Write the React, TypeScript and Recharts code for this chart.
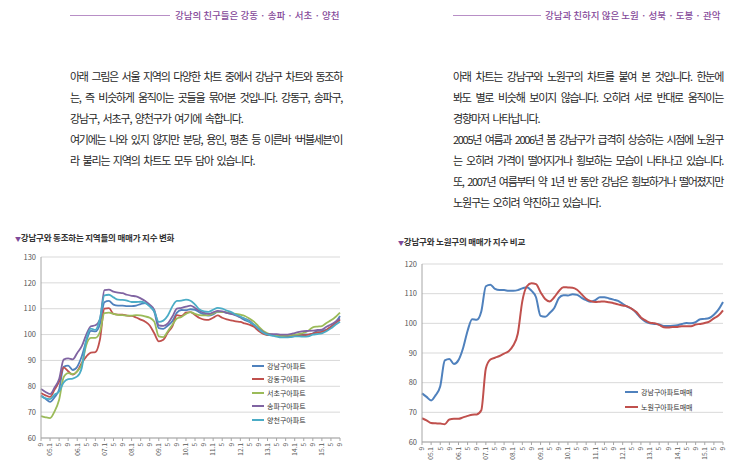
import React from 'react';
import { LineChart, Line, XAxis, YAxis, CartesianGrid } from 'recharts';

// 2개월 간격 (04.9 ~ 15.9)
const months = [
  '04.9', '04.11',
  '05.1', '05.3', '05.5', '05.7', '05.9', '05.11',
  '06.1', '06.3', '06.5', '06.7', '06.9', '06.11',
  '07.1', '07.3', '07.5', '07.7', '07.9', '07.11',
  '08.1', '08.3', '08.5', '08.7', '08.9', '08.11',
  '09.1', '09.3', '09.5', '09.7', '09.9', '09.11',
  '10.1', '10.3', '10.5', '10.7', '10.9', '10.11',
  '11.1', '11.3', '11.5', '11.7', '11.9', '11.11',
  '12.1', '12.3', '12.5', '12.7', '12.9', '12.11',
  '13.1', '13.3', '13.5', '13.7', '13.9', '13.11',
  '14.1', '14.3', '14.5', '14.7', '14.9', '14.11',
  '15.1', '15.3', '15.5', '15.7', '15.9',
];

const gangnam = [
  76.4, 75.2, 74.0, 75.8, 78.8, 87.5, 88.0, 86.3, 87.6, 91.6,
  97.5, 101.4, 101.2, 104.0, 112.5, 113.0, 111.6, 111.2, 111.2, 111.0,
  111.0, 111.2, 111.8, 112.2, 111.0, 108.8, 102.5, 102.2, 103.5, 105.2,
  108.5, 109.5, 109.4, 109.8, 109.6, 108.6, 107.8, 107.3, 107.8, 108.8,
  108.8, 108.4, 108.0, 107.6, 106.6, 105.6, 104.9, 103.5, 101.8, 100.6,
  100.0, 99.8, 99.6, 99.1, 99.1, 99.2, 99.4, 99.8, 100.1, 100.0,
  100.4, 101.4, 101.5, 101.8, 102.9, 104.6, 107.2,
];

const gangdong = [
  77.4, 76.5, 75.9, 78.7, 81.9, 87.3, 85.8, 84.5, 85.8, 89.0,
  91.5, 93.0, 93.2, 98.0, 110.0, 110.2, 108.0, 107.7, 107.7, 107.3,
  107.2, 106.6, 105.8, 105.0, 103.5, 100.5, 97.4, 98.0, 100.8, 103.2,
  107.5, 107.2, 108.5, 108.7, 107.6, 106.4, 105.8, 105.7, 106.5, 107.4,
  106.5, 105.9, 105.5, 105.1, 104.9, 104.3, 103.8, 103.0, 101.5, 100.3,
  99.8, 100.0, 99.6, 99.4, 99.5, 99.6, 99.6, 99.8, 99.8, 100.0,
  100.4, 100.8, 101.0, 101.8, 103.0, 104.4, 105.7,
];

const seocho = [
  68.5, 68.0, 67.7, 70.3, 74.8, 83.5, 85.1, 84.7, 85.8, 88.4,
  96.0, 98.7, 98.7, 101.0, 108.3, 108.5, 108.0, 107.6, 107.5, 107.3,
  107.3, 107.5, 107.4, 107.0, 106.5, 105.0, 99.3, 99.0, 101.3, 103.8,
  106.2, 106.8, 108.0, 108.7, 108.0, 107.5, 107.4, 107.5, 108.2, 108.9,
  108.7, 108.6, 108.3, 108.0, 107.7, 107.2, 106.2, 105.0, 103.2, 101.5,
  100.5, 100.0, 99.6, 99.4, 99.6, 99.8, 100.0, 100.3, 100.7, 101.5,
  102.8, 103.1, 103.3, 104.5, 105.5, 106.8, 108.5,
];

const songpa = [
  79.0, 77.8, 77.0, 79.5, 82.8, 90.3, 90.8, 90.4, 92.9, 95.5,
  100.0, 103.2, 103.6, 105.8, 117.2, 117.4, 116.6, 116.2, 116.0, 115.4,
  115.0, 114.8, 114.0, 113.0, 111.6, 109.6, 103.6, 103.4, 104.3, 107.0,
  110.0, 110.3, 110.8, 111.2, 110.3, 109.2, 108.4, 108.0, 108.6, 109.2,
  109.0, 108.4, 108.0, 107.4, 106.7, 106.1, 105.3, 103.8, 102.3, 101.0,
  100.2, 100.2, 100.2, 100.0, 100.0, 100.2, 100.6, 101.0, 101.3, 101.4,
  101.5, 101.8, 101.9, 103.0, 103.9, 105.0, 106.2,
];

const yangcheon = [
  76.2, 75.3, 75.0, 76.8, 78.0, 81.5, 82.8, 83.0, 83.8, 87.1,
  98.0, 102.3, 101.8, 106.0, 115.2, 115.4, 114.4, 113.5, 113.4, 113.1,
  112.6, 112.6, 112.7, 112.2, 110.9, 109.0, 104.9, 105.4, 107.4, 110.9,
  113.0, 113.1, 113.5, 113.1, 111.6, 109.7, 109.0, 108.8, 109.6, 110.3,
  110.0, 109.3, 108.7, 107.7, 107.0, 106.1, 105.1, 103.8, 102.2, 100.8,
  100.0, 99.6, 99.2, 98.9, 98.9, 99.0, 99.3, 99.3, 99.2, 99.3,
  100.0, 100.2, 100.5, 101.3, 102.4, 103.8, 105.0,
];

const nowon = [
  68.0, 67.3, 66.4, 66.3, 66.2, 66.0, 67.6, 67.8, 67.8, 68.3,
  68.8, 69.2, 69.3, 70.7, 84.8, 87.8, 88.4, 89.0, 89.8, 90.6,
  92.5, 96.5, 107.5, 112.5, 113.5, 113.2, 110.5, 108.2, 107.4, 108.8,
  110.8, 112.2, 112.1, 112.0, 111.3, 109.8, 108.3, 107.5, 107.2, 107.3,
  107.4, 107.1, 106.8, 106.4, 106.0, 105.7, 104.9, 103.8, 102.0, 101.0,
  100.2, 100.0, 99.5, 98.7, 98.6, 98.8, 98.8, 99.0, 99.0, 99.0,
  99.6, 99.8, 100.1, 100.6, 101.7, 102.6, 104.4,
];

const leftTicks = [60, 70, 80, 90, 100, 110, 120, 130];
const rightTicks = [60, 70, 80, 90, 100, 110, 120];

const leftNames = ['강남구아파트', '강동구아파트', '서초구아파트', '송파구아파트', '양천구아파트'];
const rightNames = ['강남구아파트매매', '노원구아파트매매'];

const leftData = months.map((m, i) => ({
  month: m,
  gangnam: gangnam[i],
  gangdong: gangdong[i],
  seocho: seocho[i],
  songpa: songpa[i],
  yangcheon: yangcheon[i],
}));

const rightData = months.map((m, i) => ({
  month: m,
  gangnam: gangnam[i],
  nowon: nowon[i],
}));

const FONT = '"Noto Sans CJK KR", "Noto Sans", sans-serif';
const BLUE = '#4f81bd';
const RED = '#c0504d';
const GREEN = '#9bbb59';
const PURPLE = '#8064a2';
const CYAN = '#4bacc6';
const leftColors = [BLUE, RED, GREEN, PURPLE, CYAN];
const leftKeys = ['gangnam', 'gangdong', 'seocho', 'songpa', 'yangcheon'];

const MonthTick = (props: any) => {
  const { x, y, payload } = props;
  const v: string = payload.value;
  const label = v.endsWith('.1') ? v : v.split('.')[1];
  return (
    <text
      x={x}
      y={y}
      transform={`rotate(-90, ${x}, ${y})`}
      textAnchor="end"
      dy="0.35em"
      fontSize={6.5}
      fill="#555"
      fontFamily={FONT}
    >
      {label}
    </text>
  );
};

const abs = (left: number, top: number, extra: React.CSSProperties = {}): React.CSSProperties => ({
  position: 'absolute',
  left,
  top,
  ...extra,
});

const paraStyle = (full: boolean, width: number): React.CSSProperties => ({
  fontSize: 11,
  lineHeight: '14px',
  letterSpacing: full ? -1.3 : -1.1,
  wordSpacing: full ? 0 : 2,
  color: '#262626',
  width,
  textAlignLast: full ? 'justify' : 'left',
});

const leftPara = [
  '아래 그림은 서울 지역의 다양한 차트 중에서 강남구 차트와 동조하',
  '는, 즉 비슷하게 움직이는 곳들을 묶어본 것입니다. 강동구, 송파구,',
  '강남구, 서초구, 양천구가 여기에 속합니다.',
  '여기에는 나와 있지 않지만 분당, 용인, 평촌 등 이른바 ‘버블세븐’이',
  '라 불리는 지역의 차트도 모두 담아 있습니다.',
];
const leftFull = [true, true, false, true, false];

const rightPara = [
  '아래 차트는 강남구와 노원구의 차트를 붙여 본 것입니다. 한눈에',
  '봐도 별로 비슷해 보이지 않습니다. 오히려 서로 반대로 움직이는',
  '경향마저 나타납니다.',
  '2005년 여름과 2006년 봄 강남구가 급격히 상승하는 시점에 노원구',
  '는 오히려 가격이 떨어지거나 횡보하는 모습이 나타나고 있습니다.',
  '또, 2007년 여름부터 약 1년 반 동안 강남은 횡보하거나 떨어졌지만',
  '노원구는 오히려 약진하고 있습니다.',
];
const rightFull = [true, true, false, true, true, true, false];

const titleStyle: React.CSSProperties = {
  fontSize: 8.5,
  lineHeight: '12px',
  fontWeight: 700,
  color: '#333',
  whiteSpace: 'nowrap',
  letterSpacing: -0.2,
};

const headStyle: React.CSSProperties = {
  fontSize: 9.5,
  lineHeight: '14px',
  fontWeight: 500,
  color: '#864a9a',
  whiteSpace: 'nowrap',
};

const App: React.FC = () => {
  return (
    <div style={abs(0, 0, { width: 733, height: 468, background: '#fff', overflow: 'hidden', fontFamily: FONT })}>
      {/* 상단 제목 */}
      <div style={abs(70, 15, { width: 100, height: 1, background: '#b88fc6' })} />
      <div style={abs(175, 8, headStyle)}>강남의 친구들은 강동 · 송파 · 서초 · 양천</div>
      <div style={abs(453, 15, { width: 88, height: 1, background: '#b88fc6' })} />
      <div style={abs(545, 8, headStyle)}>강남과 친하지 않은 노원 · 성북 · 도봉 · 관악</div>

      {/* 본문 */}
      {leftPara.map((t, i) => (
        <div key={`l${i}`} style={abs(70, 69 + i * 21, paraStyle(leftFull[i], 272))}>
          {t}
        </div>
      ))}
      {rightPara.map((t, i) => (
        <div key={`r${i}`} style={abs(453, 69 + i * 21, paraStyle(rightFull[i], 270))}>
          {t}
        </div>
      ))}

      {/* 차트 제목 */}
      <div style={abs(15, 231, titleStyle)}>
        <span style={{ color: '#7e4a9a', fontSize: 6 }}>▼</span>강남구와 동조하는 지역들의 매매가 지수 변화
      </div>
      <div style={abs(398, 235, titleStyle)}>
        <span style={{ color: '#7e4a9a', fontSize: 6 }}>▼</span>강남구와 노원구의 매매가 지수 비교
      </div>

      {/* 왼쪽 차트 */}
      <div style={abs(0, 245)}>
        <LineChart width={350} height={223} data={leftData} margin={{ top: 12, right: 10, bottom: 2, left: 11 }}>
          <CartesianGrid vertical={false} stroke="#d9d9d9" />
          <XAxis
            dataKey="month"
            height={28}
            interval={1}
            tick={<MonthTick />}
            tickSize={3}
            tickMargin={2}
            axisLine={{ stroke: '#a6a6a6' }}
            tickLine={{ stroke: '#a6a6a6' }}
          />
          <YAxis
            width={30}
            domain={[60, 130]}
            ticks={leftTicks}
            tickLine={false}
            tickSize={3}
            tickMargin={2}
            axisLine={{ stroke: '#a6a6a6' }}
            tick={{ fontSize: 7.5, fill: '#555', fontFamily: FONT }}
          />
          {leftKeys.map((k, i) => (
            <Line
              key={k}
              type="monotone"
              dataKey={k}
              name={leftNames[i]}
              stroke={leftColors[i]}
              strokeWidth={1.8}
              dot={false}
              isAnimationActive={false}
            />
          ))}
        </LineChart>
      </div>
      <div style={abs(252, 359)}>
        {leftNames.map((n, i) => (
          <div key={n} style={{ display: 'flex', alignItems: 'center', height: 13.5 }}>
            <div style={{ width: 12, height: 2, background: leftColors[i], marginRight: 3 }} />
            <span style={{ fontSize: 7, color: '#333' }}>{n}</span>
          </div>
        ))}
      </div>

      {/* 오른쪽 차트 */}
      <div style={abs(380, 250)}>
        <LineChart width={353} height={218} data={rightData} margin={{ top: 14, right: 10, bottom: 2, left: 12 }}>
          <CartesianGrid vertical={false} stroke="#d9d9d9" />
          <XAxis
            dataKey="month"
            height={24}
            interval={1}
            tick={<MonthTick />}
            tickSize={3}
            tickMargin={2}
            axisLine={{ stroke: '#a6a6a6' }}
            tickLine={{ stroke: '#a6a6a6' }}
          />
          <YAxis
            width={30}
            domain={[60, 120]}
            ticks={rightTicks}
            tickLine={false}
            tickSize={3}
            tickMargin={2}
            axisLine={{ stroke: '#a6a6a6' }}
            tick={{ fontSize: 7.5, fill: '#555', fontFamily: FONT }}
          />
          <Line type="monotone" dataKey="gangnam" name={rightNames[0]} stroke={BLUE} strokeWidth={2} dot={false} isAnimationActive={false} />
          <Line type="monotone" dataKey="nowon" name={rightNames[1]} stroke={RED} strokeWidth={2} dot={false} isAnimationActive={false} />
        </LineChart>
      </div>
      <div style={abs(625, 384)}>
        {rightNames.map((n, i) => (
          <div key={n} style={{ display: 'flex', alignItems: 'center', height: 15 }}>
            <div style={{ width: 13, height: 2, background: i === 0 ? BLUE : RED, marginRight: 3 }} />
            <span style={{ fontSize: 7, color: '#333' }}>{n}</span>
          </div>
        ))}
      </div>
    </div>
  );
};

export default App;
